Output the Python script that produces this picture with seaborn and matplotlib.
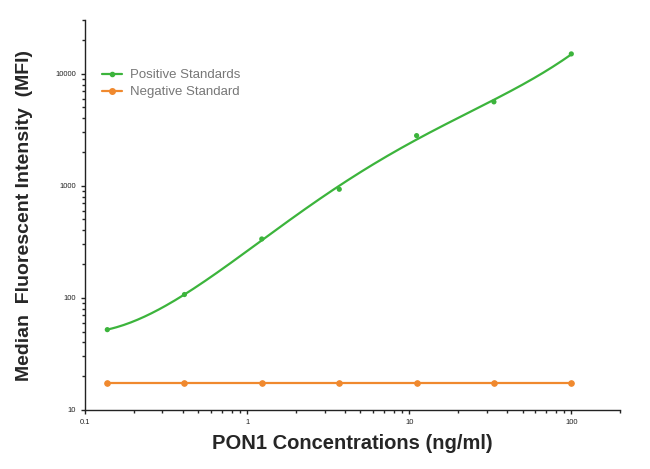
import matplotlib
matplotlib.use("Agg")
import matplotlib.pyplot as plt
import matplotlib.ticker as mticker
from matplotlib.lines import Line2D
import seaborn as sns
import numpy as np
import pandas as pd

# standards: 3-fold dilution series (ng/ml)
conc = [0.137, 0.41, 1.23, 3.7, 11.1, 33.3, 100.0]
pos_mfi = [52, 107, 335, 930, 2800, 5600, 15000]
neg_mfi = [17.5, 17.5, 17.5, 17.5, 17.5, 17.5, 17.5]

green = "#3cb43c"
orange = "#f0892e"

sns.set_style("white")
plt.rcParams['font.family'] = ['Liberation Sans', 'DejaVu Sans']

df = pd.DataFrame({"conc": conc, "pos": pos_mfi, "neg": neg_mfi})

# smooth standard curve: polynomial fit in log-log space
coef = np.polyfit(np.log10(df["conc"]), np.log10(df["pos"]), 4)
xs = np.logspace(np.log10(conc[0]), np.log10(conc[-1]), 200)
fit = pd.DataFrame({"conc": xs, "mfi": 10 ** np.polyval(coef, np.log10(xs))})

fig = plt.figure(figsize=(6.5, 4.69), dpi=100)
ax = fig.add_axes([0.131, 0.126, 0.823, 0.831])

sns.lineplot(data=fit, x="conc", y="mfi", color=green, lw=1.6, ax=ax)
sns.scatterplot(data=df, x="conc", y="pos", color=green, s=14, edgecolor="none", ax=ax, zorder=3)
sns.lineplot(data=df, x="conc", y="neg", color=orange, lw=1.6, marker="o",
             markersize=4, markeredgecolor=orange, ax=ax)

ax.set_xscale("log")
ax.set_yscale("log")
ax.set_xlim(0.1, 200)
ax.set_ylim(10, 30000)

ax.xaxis.set_major_locator(mticker.FixedLocator([0.1, 1, 10, 100]))
ax.xaxis.set_major_formatter(mticker.FixedFormatter(["0.1", "1", "10", "100"]))
ax.yaxis.set_major_locator(mticker.FixedLocator([10, 100, 1000, 10000]))
ax.yaxis.set_major_formatter(mticker.FixedFormatter(["10", "100", "1000", "10000"]))
ax.xaxis.set_minor_locator(mticker.LogLocator(base=10, subs=np.arange(2, 10)))
ax.yaxis.set_minor_locator(mticker.LogLocator(base=10, subs=np.arange(2, 10)))
ax.xaxis.set_minor_formatter(mticker.NullFormatter())
ax.yaxis.set_minor_formatter(mticker.NullFormatter())

ax.tick_params(which="major", direction="out", length=3, width=1, labelsize=5.5,
               colors="#222222", left=True, bottom=True)
ax.tick_params(which="minor", direction="out", length=2, width=1, left=True, bottom=True)

sns.despine(ax=ax)
for s in ["left", "bottom"]:
    ax.spines[s].set_color("#222222")
    ax.spines[s].set_linewidth(1.0)

ax.set_xlabel("PON1 Concentrations (ng/ml)", fontsize=14.5, fontweight="bold", labelpad=6)
ax.set_ylabel("Median  Fluorescent Intensity  (MFI)", fontsize=14, fontweight="bold", labelpad=16)

handles = [Line2D([], [], color=green, lw=1.6, marker="o", markersize=3),
           Line2D([], [], color=orange, lw=1.6, marker="o", markersize=4)]
ax.legend(handles, ["Positive Standards", "Negative Standard"], loc="upper left",
          bbox_to_anchor=(0.01, 0.905), frameon=False, fontsize=9.5, labelcolor="#777777",
          handlelength=1.5, handletextpad=0.6, labelspacing=0.35)

fig.savefig("out.png", dpi=100)
